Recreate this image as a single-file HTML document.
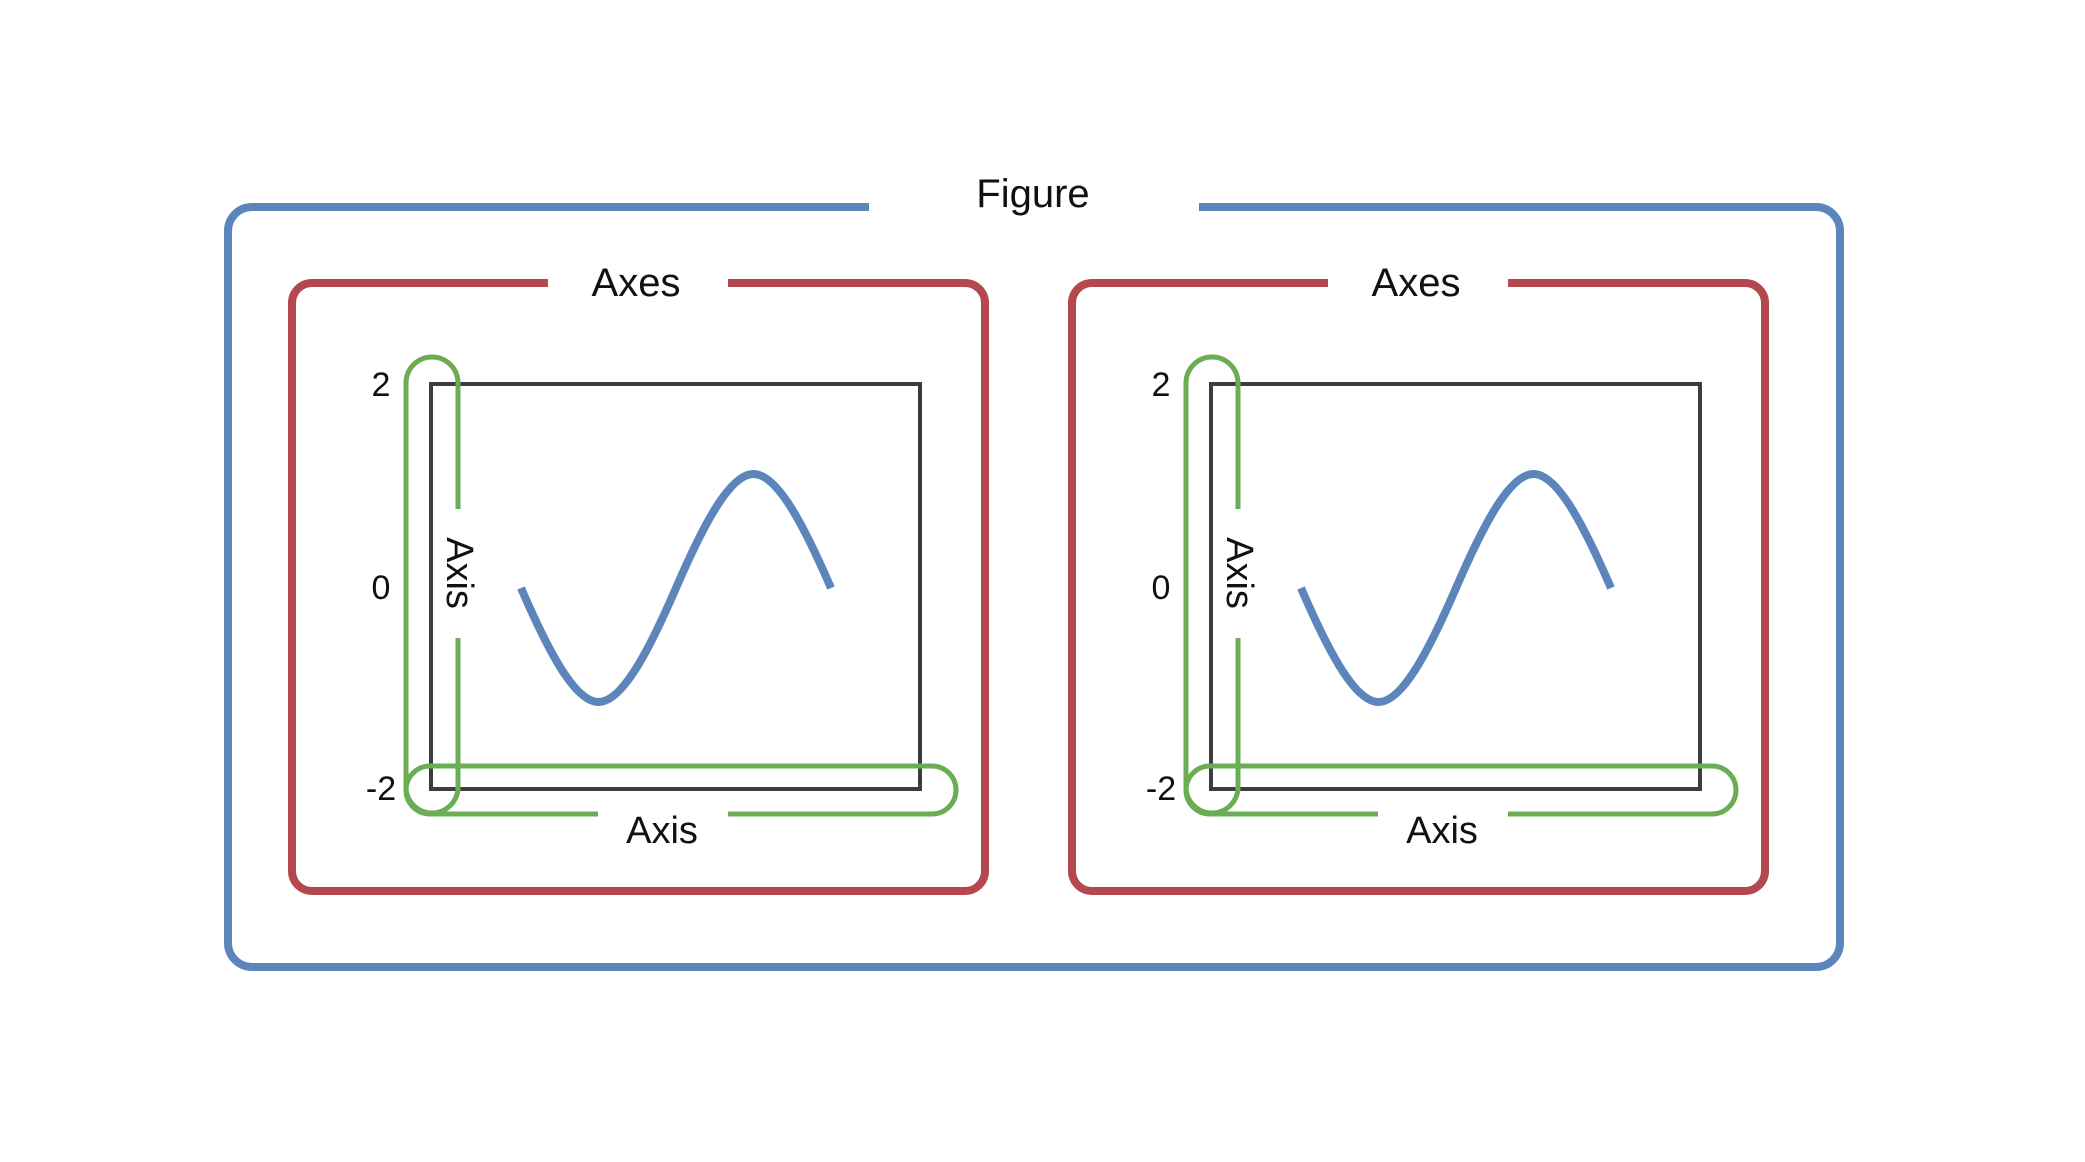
<!DOCTYPE html>
<html><head><meta charset="utf-8"><style>
html,body{margin:0;padding:0;background:#fff;}
svg{display:block;}
text{font-family:"Liberation Sans",sans-serif;fill:#111;}
</style></head><body>
<svg width="2085" height="1162" viewBox="0 0 2085 1162">
<rect x="0" y="0" width="2085" height="1162" fill="#fff"/>
<!-- Figure -->
<rect x="228" y="207" width="1612" height="760" rx="24" fill="none" stroke="#5b85bb" stroke-width="8"/>
<rect x="869" y="180" width="330" height="50" fill="#fff"/>
<text x="1033" y="207" font-size="40" text-anchor="middle">Figure</text>

<g id="p1">
<rect x="292" y="283" width="693" height="608" rx="20" fill="none" stroke="#b5474f" stroke-width="8"/>
<rect x="548" y="260" width="180" height="46" fill="#fff"/>
<text x="636" y="296" font-size="40" text-anchor="middle">Axes</text>
<rect x="431" y="384" width="489" height="405" fill="none" stroke="#3a3d42" stroke-width="4"/>
<rect x="406" y="357" width="52" height="456" rx="26" fill="none" stroke="#6aad55" stroke-width="5"/>
<rect x="406" y="766" width="550" height="48" rx="24" fill="none" stroke="#6aad55" stroke-width="5"/>
<rect x="453" y="509" width="12" height="129" fill="#fff"/>
<rect x="598" y="808" width="130" height="12" fill="#fff"/>
<text x="662" y="843" font-size="38" text-anchor="middle">Axis</text>
<text x="0" y="0" font-size="38" text-anchor="middle" transform="translate(447,573) rotate(90)">Axis</text>
<text x="381" y="396" font-size="34" text-anchor="middle">2</text>
<text x="381" y="599" font-size="34" text-anchor="middle">0</text>
<text x="381" y="800" font-size="34" text-anchor="middle">-2</text>
<path d="M521 588 C546.3 646.4 573.8 702 598.5 702 C623.2 702 650.7 646.4 676 588 C701.3 529.6 728.8 474 753.5 474 C778.2 474 805.7 529.6 831 588" fill="none" stroke="#5b85bb" stroke-width="8"/>
</g>
<use href="#p1" transform="translate(780,0)"/>
</svg>
</body></html>
